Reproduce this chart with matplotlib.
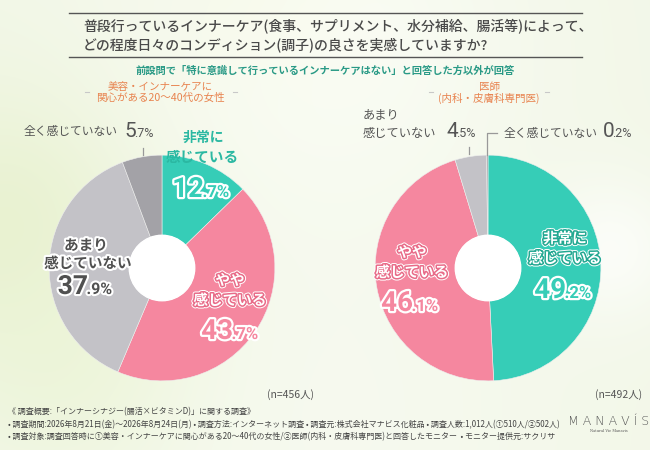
import numpy as np
import matplotlib
matplotlib.use('Agg')
import matplotlib.pyplot as plt
import matplotlib.patheffects as pe
from matplotlib.patches import Circle

plt.rcParams['font.family'] = ['Noto Sans CJK JP', 'DejaVu Sans']

# === DATA ===
categories = ['非常に感じている', 'やや感じている', 'あまり感じていない', '全く感じていない']
women = [12.7, 43.7, 37.9, 5.7]
doctors = [49.2, 46.1, 4.5, 0.2]
n_women = 456
n_doctors = 492

TEAL = '#36cdb7'
PINK = '#f5879f'
LGRAY = '#c3c2c7'
DGRAY = '#a3a2a7'
TEAL_TXT = '#2bb8a2'
TEXT = '#4a4a4a'
ORANGE = '#e8834f'
NUM_FONT = ['Roboto', 'DejaVu Sans']

W, H = 650, 450
fig = plt.figure(figsize=(6.5, 4.5), dpi=100)

# background
bg = fig.add_axes([0, 0, 1, 1], zorder=0)
yy, xx = np.mgrid[0:H, 0:W]
img = np.ones((H, W, 3)) * np.array([0.95, 0.97, 0.91])
def blob(cx, cy, r, col, a):
    global img
    g = np.exp(-(((xx - cx) / r) ** 2 + ((yy - cy) / r) ** 2))[..., None] * a
    img = img * (1 - g) + np.array(col) * g
blob(20, 230, 140, (0.90, 0.94, 0.79), 0.85)
blob(90, 360, 120, (0.91, 0.95, 0.81), 0.7)
blob(270, 10, 90, (0.94, 0.96, 0.84), 0.6)
blob(610, 250, 70, (1.0, 1.0, 1.0), 0.7)
blob(325, 40, 200, (1.0, 1.0, 0.99), 0.6)
blob(325, 430, 260, (0.98, 0.99, 0.96), 0.5)
bg.imshow(np.clip(img, 0, 1), extent=[0, W, H, 0], aspect='auto')
bg.set_xlim(0, W)
bg.set_ylim(H, 0)
bg.axis('off')


def donut(cx, cy, values):
    R = 114
    ax = fig.add_axes([(cx - R) / W, (H - cy - R) / H, 2 * R / W, 2 * R / H], zorder=1)
    ax.pie(values, colors=[TEAL, PINK, LGRAY, DGRAY], startangle=90, counterclock=False,
           radius=1, wedgeprops=dict(width=0.71, edgecolor='#eeeeee', linewidth=0.4))
    ax.add_patch(Circle((0, 0), 0.29, color='white', zorder=3))
    ax.set_xlim(-1.01, 1.01)
    ax.set_ylim(-1.01, 1.01)
    ax.axis('off')


donut(162, 268, women)
donut(488, 268, doctors)

# overlay for text
ax = fig.add_axes([0, 0, 1, 1], zorder=3)
ax.set_xlim(0, W)
ax.set_ylim(H, 0)
ax.axis('off')
ax.patch.set_alpha(0)

# header
ax.plot([69, 582], [13, 13], color='#555555', lw=1)
ax.plot([69, 582], [57, 57], color='#555555', lw=1)
ax.text(83, 27, '普段行っているインナーケア(食事、サプリメント、水分補給、腸活等)によって、',
        fontsize=10, color=TEXT, va='center', ha='left', weight='medium')
ax.text(83, 45, 'どの程度日々のコンディション(調子)の良さを実感していますか?',
        fontsize=10, color=TEXT, va='center', ha='left', weight='medium')
ax.text(325, 71, '前設問で「特に意識して行っているインナーケアはない」と回答した方以外が回答',
        fontsize=7.4, color='#2a9a86', ha='center', va='center', weight='bold')

ax.text(160, 87, '美容・インナーケアに', fontsize=7.6, color=ORANGE, ha='center', va='center')
ax.text(160, 98, '関心がある20〜40代の女性', fontsize=7.6, color=ORANGE, ha='center', va='center')
ax.text(489, 87, '医師', fontsize=7.6, color=ORANGE, ha='center', va='center')
ax.text(489, 98, '(内科・皮膚科専門医)', fontsize=7.6, color=ORANGE, ha='center', va='center')
for x in [87, 235, 431, 547]:
    ax.plot([x - 2, x + 2], [92, 92], color='#c8c8c8', lw=0.8)

# helpers
outline_w = [pe.withStroke(linewidth=3, foreground='white')]


def inner(x, y, s, dark, size=10.5):
    ax.text(x, y, s, fontsize=size, color='white', ha='center', va='center', weight='bold',
            path_effects=[pe.Stroke(linewidth=3.6, foreground='white'),
                          pe.Stroke(linewidth=2.2, foreground=dark), pe.Normal()])


def pct(x, y, v, big, small, color, effects=None, weight='bold'):
    a, b = f'{v:.1f}'.split('.')
    ax.text(x + 1, y, a, fontsize=big, color=color, ha='right', va='baseline', weight=weight,
            family=NUM_FONT, path_effects=effects)
    ax.text(x - 0.5, y, '.' + b + '%', fontsize=small, color=color, ha='left', va='baseline',
            weight=weight, family=NUM_FONT, path_effects=effects)


hollow = [pe.Stroke(linewidth=3.2, foreground='white'), pe.Normal()]

# left donut labels
ax.text(203, 138, '非常に', fontsize=10, color=TEAL_TXT, ha='center', va='center', weight='bold')
ax.text(202, 157, '感じている', fontsize=10.5, color=TEAL_TXT, ha='center', va='center', weight='bold')
pct(203, 197, women[0], 20, 12, TEAL, hollow)
inner(230, 280, 'やや', '#e86b88')
inner(230, 300, '感じている', '#e86b88')
pct(232, 339, women[1], 20, 12, PINK, hollow)
ax.text(86, 245, 'あまり', fontsize=10.5, color='#505050', ha='center', va='center', weight='bold',
        path_effects=outline_w)
ax.text(88, 263, '感じていない', fontsize=10.5, color='#505050', ha='center', va='center', weight='bold',
        path_effects=outline_w)
pct(87, 294, women[2], 19, 11.5, '#505050', outline_w)
ax.text(118, 131, '全く感じていない', fontsize=8.5, color='#555555', ha='right', va='center')
pct(135, 137, women[3], 15, 9, '#555555', None, weight='normal')
ax.plot([143, 143], [148, 155], color='#999999', lw=0.9)

# right donut labels
inner(565, 238, '非常に', '#22a891')
inner(565, 258, '感じている', '#22a891')
pct(565, 298, doctors[0], 20, 12, TEAL, hollow)
inner(412, 252, 'やや', '#e86b88')
inner(412, 272, '感じている', '#e86b88')
pct(412, 311, doctors[1], 20, 12, PINK, hollow)
ax.text(363, 115, 'あまり', fontsize=8.8, color='#555555', ha='left', va='center')
ax.text(363, 133, '感じていない', fontsize=8.8, color='#555555', ha='left', va='center')
pct(457, 137, doctors[2], 15, 9, '#555555', None, weight='normal')
ax.plot([469, 469], [147, 154], color='#999999', lw=0.9)
ax.plot([497, 487, 487], [133, 133, 155], color='#999999', lw=0.9)
ax.text(504, 133, '全く感じていない', fontsize=8.5, color='#555555', ha='left', va='center')
pct(613, 137, doctors[3], 15, 9, '#555555', None, weight='normal')

ax.text(290, 395, f'(n={n_women}人)', fontsize=7.5, color='#555555', ha='center', va='center')
ax.text(619, 395, f'(n={n_doctors}人)', fontsize=7.5, color='#555555', ha='center', va='center')

# footer
foot = [
    '《 調査概要:「インナーシナジー(腸活×ビタミンD)」に関する調査》',
    '• 調査期間:2026年8月21日(金)〜2026年8月24日(月) • 調査方法:インターネット調査 • 調査元:株式会社マナビス化粧品 • 調査人数:1,012人(①510人/②502人)',
    '• 調査対象:調査回答時に①美容・インナーケアに関心がある20〜40代の女性/②医師(内科・皮膚科専門医)と回答したモニター  • モニター提供元:サクリサ',
]
for i, s in enumerate(foot):
    ax.text(8, 412 + i * 12.5, s, fontsize=5.75, color='#444444', ha='left', va='center')

ax.text(609, 421, 'M A N A V Í S', fontsize=9, color='#555555', ha='center', va='center',
        family=['DejaVu Sans'], weight='light')
ax.text(609, 431, 'Natural Vie Manavis', fontsize=2.6, color='#555555', ha='center', va='center',
        family=['DejaVu Serif'])

fig.savefig('out.png', dpi=100)
plt.close(fig)
